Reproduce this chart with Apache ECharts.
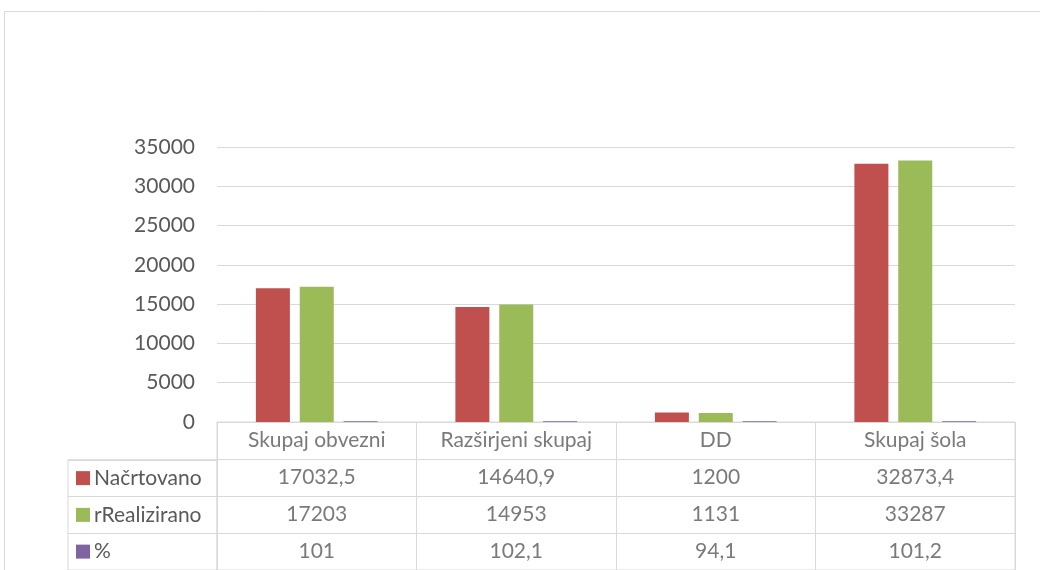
<!DOCTYPE html>
<html>
<head>
<meta charset="utf-8">
<script src="https://cdn.jsdelivr.net/npm/echarts@6/dist/echarts.min.js"></script>
<style>
html,body{margin:0;padding:0;background:#fff;}
#main{width:1040px;height:570px;}
</style>
</head>
<body>
<div id="main"></div>
<script>
var categories = ['Skupaj obvezni', 'Razširjeni skupaj', 'DD', 'Skupaj šola'];
var seriesNames = ['Načrtovano', 'rRealizirano', '%'];
var planned = [17032.5, 14640.9, 1200, 32873.4];
var realized = [17203, 14953, 1131, 33287];
var percent = [101, 102.1, 94.1, 101.2];
var seriesColors = ['#c0504d', '#9bbb59', '#8064a2'];
var yMax = 35000, yStep = 5000;

var FONT = 'Lato';
var FS = 21;
var TXT = '#595959';
var LINE = '#d9d9d9';

function fmt(v){ return String(v).replace('.', ','); }

var allValues = [planned, realized, percent];

// table cells: header row (0) + one row per series
var tableCells = [];
for (var c = 0; c < categories.length; c++) tableCells.push([c, 0, categories[c]]);
for (var s = 0; s < allValues.length; s++) {
    for (var c = 0; c < categories.length; c++) tableCells.push([c, s + 1, fmt(allValues[s][c])]);
}

var rich = {};
for (var i = 0; i < seriesColors.length; i++) {
    rich['k' + i] = {backgroundColor: seriesColors[i], width: 14, height: 14};
}
rich.t = {color: TXT, fontFamily: FONT, fontSize: FS, padding: [0, 0, 0, 4]};

var myChart = echarts.init(document.getElementById('main'));
var option = {
    animation: false,
    textStyle: {fontFamily: FONT},
    graphic: [{
        type: 'rect',
        silent: true,
        shape: {x: 4.5, y: 11.5, width: 1200, height: 800},
        style: {fill: 'none', stroke: LINE, lineWidth: 1}
    }],
    grid: [
        {left: 217, right: 25, top: 147, height: 275},
        {left: 217, right: 25, top: 422, height: 151, show: true, borderColor: LINE, borderWidth: 1},
        {left: 68, width: 149, top: 459.75, height: 113.25, show: true, borderColor: LINE, borderWidth: 1}
    ],
    xAxis: [
        {gridIndex: 0, type: 'category', data: categories, z: 5,
            axisLine: {lineStyle: {color: LINE}}, axisTick: {show: false}, axisLabel: {show: false}},
        {gridIndex: 1, type: 'category', data: categories,
            axisLine: {show: false}, axisTick: {show: false}, axisLabel: {show: false},
            splitLine: {show: true, lineStyle: {color: LINE, width: 1}}},
        {gridIndex: 2, type: 'category', data: [''], show: false}
    ],
    yAxis: [
        {gridIndex: 0, type: 'value', min: 0, max: yMax, interval: yStep,
            axisLine: {show: false}, axisTick: {show: false},
            axisLabel: {color: TXT, fontFamily: FONT, fontSize: FS, margin: 22,
                formatter: function(v){ return String(v); }},
            splitLine: {lineStyle: {color: LINE, width: 1}}},
        {gridIndex: 1, type: 'category', inverse: true, data: [''].concat(seriesNames),
            axisLine: {show: false}, axisTick: {show: false}, axisLabel: {show: false},
            splitLine: {show: true, lineStyle: {color: LINE, width: 1}}},
        {gridIndex: 2, type: 'category', inverse: true, data: seriesNames,
            axisLine: {show: false}, axisTick: {show: false},
            axisLabel: {inside: true, margin: 8, align: 'left', rich: rich,
                formatter: function(v, idx){ return '{k' + idx + '|}{t|' + v + '}'; }},
            splitLine: {show: true, lineStyle: {color: LINE, width: 1}}}
    ],
    series: [
        {name: seriesNames[0], type: 'bar', xAxisIndex: 0, yAxisIndex: 0, data: planned,
            barWidth: 34, barGap: '29%', itemStyle: {color: seriesColors[0]}},
        {name: seriesNames[1], type: 'bar', xAxisIndex: 0, yAxisIndex: 0, data: realized,
            barWidth: 34, barGap: '29%', itemStyle: {color: seriesColors[1]}},
        {name: seriesNames[2], type: 'bar', xAxisIndex: 0, yAxisIndex: 0, data: percent,
            barWidth: 34, barGap: '29%', itemStyle: {color: seriesColors[2]}},
        {type: 'scatter', xAxisIndex: 1, yAxisIndex: 1, data: tableCells, silent: true,
            symbolSize: 1, itemStyle: {color: 'rgba(0,0,0,0)'},
            label: {show: true, position: 'inside', color: TXT, fontFamily: FONT, fontSize: FS,
                formatter: function(p){ return p.data[2]; }}}
    ]
};
myChart.setOption(option);
</script>
</body>
</html>
